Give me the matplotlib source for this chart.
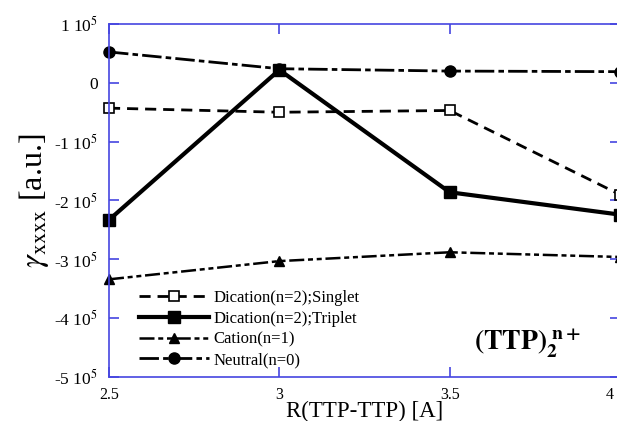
import matplotlib
matplotlib.use("Agg")
import matplotlib.pyplot as plt
import matplotlib.transforms as mtransforms
from matplotlib.ticker import FixedLocator, FixedFormatter

plt.rcParams['font.family'] = ['Liberation Serif', 'DejaVu Serif']
plt.rcParams['mathtext.fontset'] = 'stix'

x = [2.5, 3.0, 3.5, 4.0]
singlet = [-43000, -50000, -47000, -190000]
triplet = [-233000, 22000, -186000, -224000]
cation = [-334000, -303000, -288000, -296000]
neutral = [52500, 24000, 20000, 19000]

yticks = [100000, 0, -100000, -200000, -300000, -400000, -500000]
ytick_labels = [r'1 10$^{5}$', '0', r'-1 10$^{5}$', r'-2 10$^{5}$',
                r'-3 10$^{5}$', r'-4 10$^{5}$', r'-5 10$^{5}$']
xticks = [2.5, 3.0, 3.5, 4.0]
xtick_labels = ['2.5', '3', '3.5', '4']

fig = plt.figure(figsize=(6.17, 4.21), dpi=100)
ax = fig.add_axes([109/617, 44/421, 511/617, 353/421])

ax.plot(x, singlet, color='black', lw=2, dashes=(4, 2.5), marker='s', ms=7,
        mfc='white', mec='black', mew=1.2, clip_on=False,
        label='Dication(n=2);Singlet')
ax.plot(x, triplet, color='black', lw=3, ls='-', marker='s', ms=9,
        mfc='black', mec='black', clip_on=False,
        label='Dication(n=2);Triplet')
ax.plot(x, cation, color='black', lw=1.8, dashes=(6, 1.5, 2, 1.5, 2, 1.5),
        marker='^', ms=7, mfc='black', mec='black', clip_on=False,
        label='Cation(n=1)')
ax.plot(x, neutral, color='black', lw=2, dashes=(7, 1.5, 2, 1.5),
        marker='o', ms=8, mfc='black', mec='black', clip_on=False,
        label='Neutral(n=0)')

ax.set_xlim(2.5, 4.0)
ax.set_ylim(-500000, 100000)
ax.xaxis.set_major_locator(FixedLocator(xticks))
# last x tick label is drawn separately (right-aligned) so it is not cut off
ax.xaxis.set_major_formatter(FixedFormatter(xtick_labels[:-1] + ['']))
ax.yaxis.set_major_locator(FixedLocator(yticks))
ax.yaxis.set_major_formatter(FixedFormatter(ytick_labels))

blue = '#4545e0'
for s in ax.spines.values():
    s.set_color(blue)
    s.set_linewidth(1.2)
ax.tick_params(direction='in', length=7, width=1.2, color=blue,
               top=True, right=True, pad=8)
ax.tick_params(axis='y', labelsize=12.5)
ax.tick_params(axis='x', labelsize=11.5, pad=7)

trans = mtransforms.blended_transform_factory(ax.transData, ax.transAxes)
trans = trans + mtransforms.ScaledTranslation(-6/100, -7/72, fig.dpi_scale_trans)
ax.text(xticks[-1], 0, xtick_labels[-1], transform=trans, ha='right', va='top',
        fontsize=11.5)

ax.set_xlabel('R(TTP-TTP) [A]', fontsize=16.5, labelpad=-1)
ax.set_ylabel(r'$\gamma_{\rm xxxx}$ [a.u.]', fontsize=23, labelpad=2)

leg = ax.legend(loc='upper left', bbox_to_anchor=(0.045, 0.265), frameon=False,
                fontsize=12, handlelength=4.2, handletextpad=0.3,
                labelspacing=0.28, borderaxespad=0)

ax.text(0.715, 0.075, r'$\mathbf{(TTP)_2^{\ n+}}$', transform=ax.transAxes,
        fontsize=20, fontweight='bold')

fig.savefig('out.png', dpi=100)
